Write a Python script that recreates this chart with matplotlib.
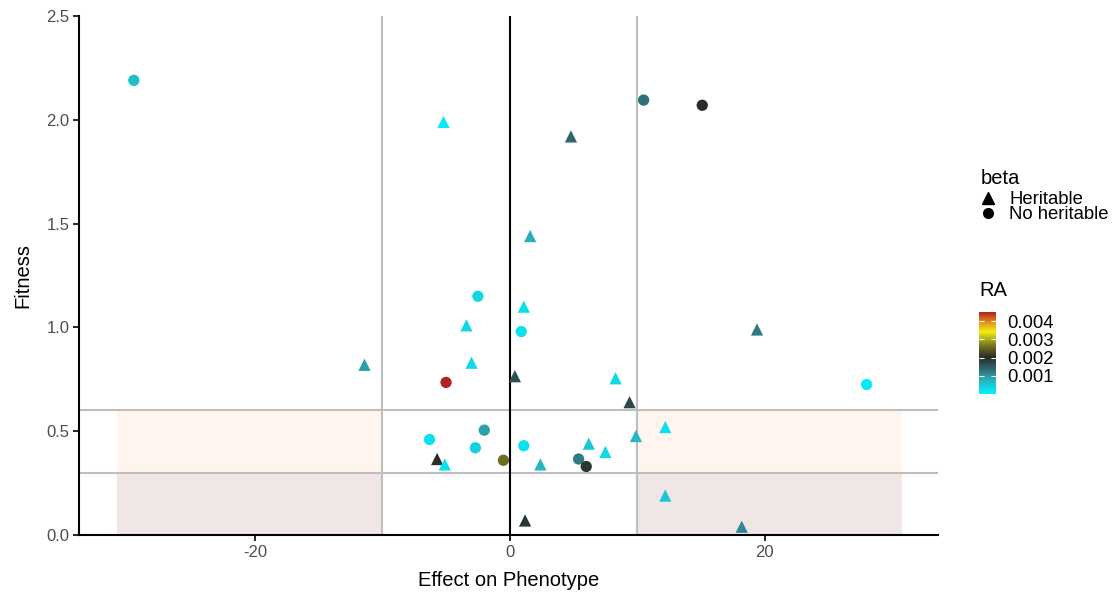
import matplotlib.pyplot as plt
import numpy as np
from matplotlib.colors import LinearSegmentedColormap, Normalize
from matplotlib.lines import Line2D

plt.rcParams['font.family'] = ['Liberation Sans', 'DejaVu Sans']
plt.rcParams['axes.unicode_minus'] = False

# effect on phenotype, fitness, RA and whether beta is heritable
effect = [-29.5, -5.2, 4.8, 10.5, 15.1, 1.6, -2.5, -3.4, 1.1, 0.9,
          -3.0, -11.4, -5.0, 0.4, 19.4, 8.3, 28.0, 9.4, 12.2, 9.9,
          -6.3, -2.0, -2.7, -5.7, -5.1, -0.5, 1.1, 2.4, 5.4, 6.0,
          6.2, 7.5, 12.2, 1.2, 18.2]
fitness = [2.19, 1.99, 1.92, 2.095, 2.07, 1.44, 1.15, 1.01, 1.10, 0.98,
           0.83, 0.82, 0.735, 0.765, 0.99, 0.755, 0.725, 0.64, 0.52, 0.477,
           0.46, 0.505, 0.42, 0.366, 0.34, 0.36, 0.43, 0.34, 0.366, 0.33,
           0.44, 0.40, 0.19, 0.07, 0.04]
ra = [0.0006, 0.0001, 0.0014, 0.0013, 0.0020, 0.0008, 0.0003, 0.0003, 0.0002, 0.0002,
      0.0003, 0.0009, 0.0045, 0.0016, 0.0012, 0.0003, 0.0001, 0.0017, 0.0002, 0.0007,
      0.0002, 0.0009, 0.0004, 0.0020, 0.0002, 0.0026, 0.0002, 0.0007, 0.0012, 0.0019,
      0.0005, 0.0003, 0.0005, 0.0019, 0.0011]
heritable = [0, 1, 1, 0, 0, 1, 0, 1, 1, 0,
             1, 1, 0, 1, 1, 1, 0, 1, 1, 1,
             0, 0, 0, 1, 1, 0, 0, 1, 0, 0,
             1, 1, 1, 1, 1]

effect = np.array(effect)
fitness = np.array(fitness)
ra = np.array(ra)
heritable = np.array(heritable, dtype=bool)

cmap = LinearSegmentedColormap.from_list('ra', [
    (0.00, '#00F2FF'),
    (0.17, '#2AB0BC'),
    (0.30, '#2F6A70'),
    (0.45, '#2A2A26'),
    (0.60, '#7A7A22'),
    (0.76, '#F2EE10'),
    (0.88, '#E08A1E'),
    (1.00, '#B22222'),
])
norm = Normalize(vmin=0, vmax=0.0045)

fig = plt.figure(figsize=(11.12, 5.92), dpi=100)
ax = fig.add_axes([79 / 1112, 57 / 592, (938 - 79) / 1112, (535 - 16) / 592])

# shaded zones
for x0, x1 in [(-30.8, -10), (10, 30.8)]:
    ax.fill_between([x0, x1], 0.3, 0.6, color='#FFF5EE', lw=0, zorder=0)
    ax.fill_between([x0, x1], 0, 0.3, color='#F0E6E6', lw=0, zorder=0)

for xv in [-10, 10]:
    ax.axvline(xv, color='#BEBEBE', lw=1.5, zorder=1)
for yv in [0.3, 0.6]:
    ax.axhline(yv, color='#BEBEBE', lw=1.5, zorder=1)
ax.axvline(0, color='black', lw=1.5, zorder=1)

ax.scatter(effect[heritable], fitness[heritable], c=ra[heritable], cmap=cmap, norm=norm,
           marker='^', s=78, lw=0, zorder=3)
ax.scatter(effect[~heritable], fitness[~heritable], c=ra[~heritable], cmap=cmap, norm=norm,
           marker='o', s=66, lw=0, zorder=3)

ax.set_xlim(-33.8, 33.6)
ax.set_ylim(0, 2.5)
ax.set_xticks([-20, 0, 20])
ax.set_yticks([0, 0.5, 1.0, 1.5, 2.0, 2.5])
ax.set_yticklabels(['0.0', '0.5', '1.0', '1.5', '2.0', '2.5'])
for s in ['top', 'right']:
    ax.spines[s].set_visible(False)
for s in ['left', 'bottom']:
    ax.spines[s].set_linewidth(1.5)
ax.tick_params(length=4, width=1.2, labelsize=12, labelcolor='#4D4D4D', pad=3)
ax.set_xlabel('Effect on Phenotype', fontsize=14.5, labelpad=8)
ax.set_ylabel('Fitness', fontsize=14.5, labelpad=10)

# shape legend
handles = [Line2D([], [], marker='^', color='black', ls='', markersize=8),
           Line2D([], [], marker='o', color='black', ls='', markersize=7)]
leg = fig.legend(handles, ['Heritable', 'No heritable'], title='beta',
                 loc='upper left', bbox_to_anchor=(973 / 1112, 1 - 162 / 592),
                 frameon=False, fontsize=13.3, title_fontsize=14.5,
                 handlelength=0.8, handletextpad=0.75, labelspacing=-0.1,
                 borderaxespad=0)
leg._legend_box.align = 'left'
leg._legend_box.sep = 2

# RA colour bar
fig.text(979 / 1112, 1 - 290 / 592, 'RA', fontsize=14.5, va='center', ha='left')
cax = fig.add_axes([979 / 1112, (592 - 394) / 592, 17 / 1112, 82 / 592])
cb = fig.colorbar(plt.cm.ScalarMappable(norm=norm, cmap=cmap), cax=cax)
cb.outline.set_visible(False)
cb.set_ticks([0.001, 0.002, 0.003, 0.004])
cb.set_ticklabels(['0.001', '0.002', '0.003', '0.004'])
cax.tick_params(left=True, right=True, direction='in', length=3.5, width=0.8,
                color='white', labelsize=13.3, pad=8)

fig.savefig('out.png', dpi=100)
